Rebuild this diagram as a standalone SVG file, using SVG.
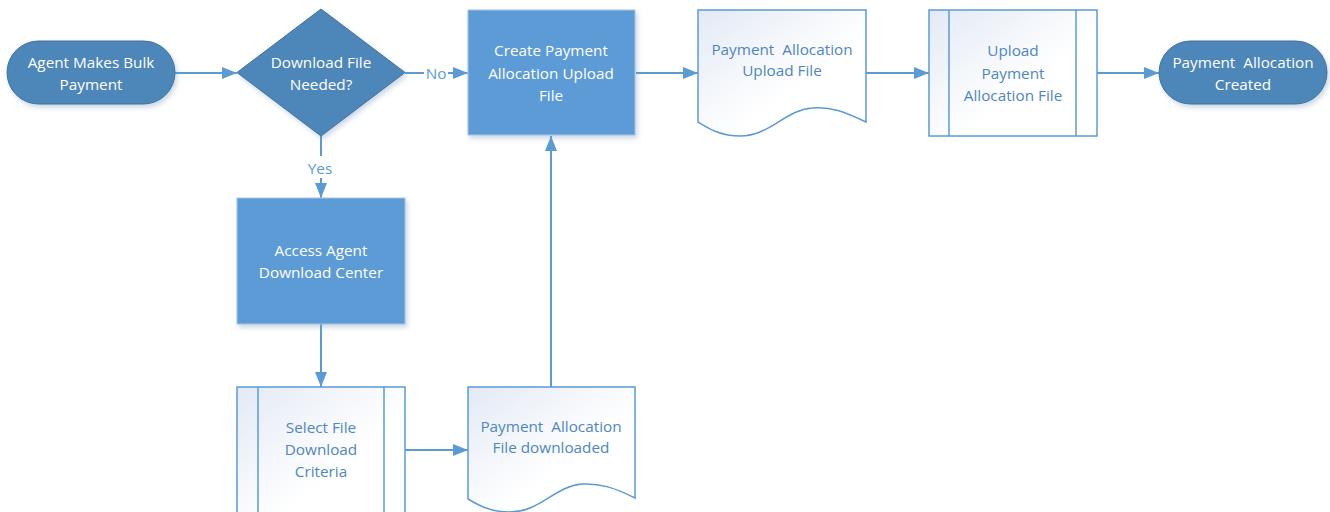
<svg xmlns="http://www.w3.org/2000/svg" width="1330" height="512" viewBox="0 0 1330 512">
<style>
text{font-family:"Open Sans","Liberation Sans",sans-serif;font-size:15.3px;text-anchor:middle;white-space:pre}
.wt{fill:#ffffff}
.bt{fill:#4F86C0}
.term{fill:#4E86B8;stroke:#41719C;stroke-width:1}
.proc{fill:#5B9BD5;stroke:#A9C4E2;stroke-width:1}
.lite{fill:url(#lg);stroke:#5B9BD5;stroke-width:1.5}
.conn{fill:none;stroke:#5B9BD5;stroke-width:2}
.lbl{fill:#5B9BD5}
</style>
<defs>
<linearGradient id="lg" x1="0" y1="0" x2="1" y2="1">
<stop offset="0" stop-color="#E3EAF5"/>
<stop offset="0.6" stop-color="#FFFFFF"/>
</linearGradient>
<marker id="ah" markerWidth="16" markerHeight="12" refX="15" refY="6" orient="auto" markerUnits="userSpaceOnUse">
<path d="M0,0 L15,6 L0,12 Z" fill="#5B9BD5"/>
</marker>
<filter id="sh" x="-10%" y="-10%" width="130%" height="130%">
<feDropShadow dx="2" dy="3" stdDeviation="2.5" flood-color="#6A8FB8" flood-opacity="0.35"/>
</filter>
</defs>
<g id="connectors">
<line class="conn" x1="175" y1="73" x2="237" y2="73" marker-end="url(#ah)"/>
<line class="conn" x1="405" y1="73" x2="424" y2="73"/>
<line class="conn" x1="448" y1="73" x2="468" y2="73" marker-end="url(#ah)"/>
<text class="lbl" x="436" y="79">No</text>
<line class="conn" x1="321" y1="136" x2="321" y2="156"/>
<line class="conn" x1="321" y1="178" x2="321" y2="198" marker-end="url(#ah)"/>
<text class="lbl" x="320" y="174">Yes</text>
<line class="conn" x1="636" y1="73" x2="698" y2="73" marker-end="url(#ah)"/>
<line class="conn" x1="866" y1="73" x2="929" y2="73" marker-end="url(#ah)"/>
<line class="conn" x1="1097" y1="73" x2="1159" y2="73" marker-end="url(#ah)"/>
<line class="conn" x1="321" y1="324" x2="321" y2="387" marker-end="url(#ah)"/>
<line class="conn" x1="405" y1="450" x2="468" y2="450" marker-end="url(#ah)"/>
<line class="conn" x1="551" y1="387" x2="551" y2="136" marker-end="url(#ah)"/>
</g>
<g id="start">
<rect class="term" x="7" y="41" width="168" height="63" rx="31.5" filter="url(#sh)"/>
<text class="wt" x="91" y="68">Agent Makes Bulk</text>
<text class="wt" x="91" y="90">Payment</text>
</g>
<g id="decision">
<polygon class="term" points="321,9 405,72.5 321,136 237,72.5" filter="url(#sh)"/>
<text class="wt" x="321" y="68">Download File</text>
<text class="wt" x="321" y="90">Needed?</text>
</g>
<g id="create">
<rect class="proc" x="468" y="10" width="167" height="125" filter="url(#sh)"/>
<text class="wt" x="551" y="56">Create Payment</text>
<text class="wt" x="551" y="79">Allocation Upload</text>
<text class="wt" x="551" y="101">File</text>
</g>
<g id="uploadfile">
<path class="lite" d="M698,10 H866 V122 C845,112 830,106 812,108 C785,110 770,136 740,136 C720,136 708,128 698,122 Z"/>
<text class="bt" x="782" y="55">Payment  Allocation</text>
<text class="bt" x="782" y="76">Upload File</text>
</g>
<g id="upload">
<rect class="lite" x="929" y="10" width="168" height="126"/>
<line class="lite" x1="949" y1="10" x2="949" y2="136"/>
<line class="lite" x1="1076" y1="10" x2="1076" y2="136"/>
<text class="bt" x="1013" y="56">Upload</text>
<text class="bt" x="1013" y="79">Payment</text>
<text class="bt" x="1013" y="101">Allocation File</text>
</g>
<g id="end">
<rect class="term" x="1159" y="41" width="168" height="63" rx="31.5" filter="url(#sh)"/>
<text class="wt" x="1243" y="68">Payment  Allocation</text>
<text class="wt" x="1243" y="90">Created</text>
</g>
<g id="access">
<rect class="proc" x="237" y="198" width="168" height="126" filter="url(#sh)"/>
<text class="wt" x="321" y="256">Access Agent</text>
<text class="wt" x="321" y="278">Download Center</text>
</g>
<g id="select">
<rect class="lite" x="237" y="387" width="168" height="140"/>
<line class="lite" x1="258" y1="387" x2="258" y2="527"/>
<line class="lite" x1="384" y1="387" x2="384" y2="527"/>
<text class="bt" x="321" y="433">Select File</text>
<text class="bt" x="321" y="455">Download</text>
<text class="bt" x="321" y="477">Criteria</text>
</g>
<g id="downloaded">
<path class="lite" d="M468,387 H635 V498 C615,488 600,483 582,484 C555,486 540,512 510,512 C490,512 478,505 468,499 Z"/>
<text class="bt" x="551" y="432">Payment  Allocation</text>
<text class="bt" x="551" y="453">File downloaded</text>
</g>
</svg>
